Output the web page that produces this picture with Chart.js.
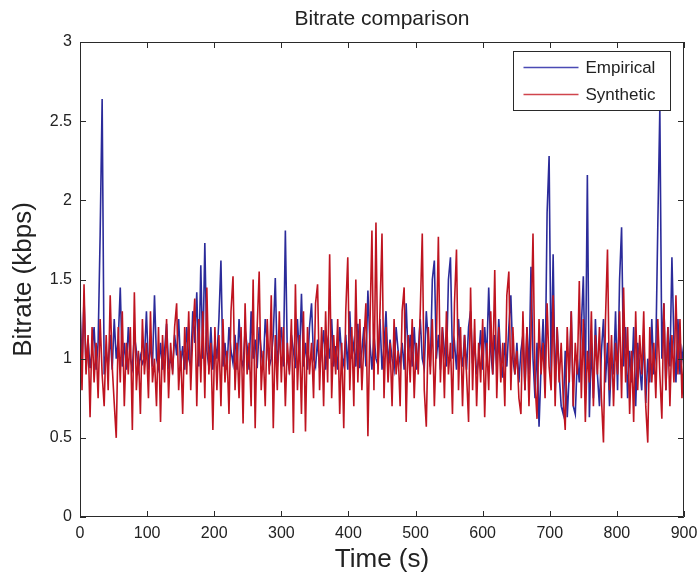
<!DOCTYPE html>
<html>
<head>
<meta charset="utf-8">
<title>Bitrate comparison</title>
<script src="https://cdn.jsdelivr.net/npm/chart.js@4.4.1/dist/chart.umd.min.js"></script>
<style>
  html, body { margin: 0; padding: 0; background: #fff; }
  canvas { display: block; }
</style>
</head>
<body>
<canvas id="bitrateChart" width="700" height="576"></canvas>
<script>
// sample spacing of the traces, in seconds
const timeStep = 3;

// Empirical trace, one value every 3 s from 0 to 900 s
const empirical = [
  1.35, 0.95, 1.38, 0.93, 1.12, 0.94, 1.05, 1.2, 0.93, 1.1, 1.78, 2.64, 0.9, 1.05, 0.95, 1.15, 0.93, 1.25, 1.0, 1.12,
  1.45, 0.95, 1.1, 0.93, 1.2, 1.0, 0.94, 1.15, 1.05, 0.93, 1.02, 0.97, 1.0, 1.3, 0.93, 1.1, 0.95, 1.4, 1.0, 0.94,
  1.1, 0.93, 1.05, 1.22, 0.95, 1.0, 0.93, 1.15, 1.02, 1.25, 0.95, 1.08, 0.93, 1.2, 1.0, 0.95, 1.3, 1.1, 1.42, 0.95,
  1.59, 1.0, 1.73, 1.05, 0.95, 1.2, 0.93, 1.1, 1.0, 1.25, 1.62, 0.95, 1.1, 0.93, 1.2, 1.05, 0.97, 1.15, 0.93, 1.25,
  1.0, 0.95, 1.18, 1.08, 0.93, 1.3, 1.0, 1.12, 0.94, 1.2, 1.05, 0.93, 1.25, 1.1, 0.95, 1.0, 1.15, 1.51, 0.95, 1.1,
  1.2, 0.95, 1.81, 1.0, 0.93, 1.15, 1.05, 0.94, 1.25, 1.0, 1.41, 0.95, 1.1, 0.93, 1.2, 1.35, 1.0, 0.95, 1.12, 0.94,
  1.05, 1.18, 0.93, 1.1, 1.0, 1.25, 0.95, 1.08, 0.93, 1.2, 1.02, 0.96, 1.15, 0.93, 1.3, 1.0, 1.1, 0.95, 1.22, 0.94,
  1.05, 1.2, 0.95, 1.43, 1.1, 0.93, 1.15, 1.0, 0.96, 1.25, 0.93, 1.08, 1.3, 0.95, 1.12, 1.0, 0.93, 1.2, 1.05, 0.97,
  1.1, 0.93, 1.35, 1.0, 1.15, 0.95, 1.2, 0.93, 1.05, 1.25, 1.0, 0.94, 1.3, 1.1, 0.95, 1.5, 1.62, 1.0, 1.15, 0.93,
  1.2, 1.05, 0.95, 1.5, 1.64, 1.0, 1.1, 0.93, 1.25, 1.05, 0.95, 1.15, 0.93, 1.2, 1.3, 0.97, 1.1, 0.9, 1.0, 1.18,
  0.93, 1.2, 1.0, 1.45, 1.05, 0.9, 1.15, 0.95, 1.25, 1.0, 0.88, 1.1, 0.95, 1.2, 1.4, 1.0, 0.9, 1.1, 0.85, 1.05,
  1.15, 0.8, 1.2, 0.9, 1.58, 1.0, 0.75, 1.1, 0.57, 0.95, 1.25, 0.85, 1.92, 2.28, 0.9, 1.66, 0.8, 1.2, 0.9, 0.7,
  0.65, 1.05, 0.63, 0.9, 1.3, 0.7, 0.65, 1.0, 0.85, 1.2, 1.52, 0.8, 2.16, 0.63, 1.1, 0.75, 1.25, 0.9, 0.7, 1.05,
  1.25, 0.85, 1.1, 0.7, 1.0, 0.9, 1.3, 0.8, 1.5, 1.83, 0.95, 1.2, 0.75, 1.05, 0.85, 1.2, 0.7, 1.1, 0.95, 0.8,
  1.15, 0.72, 1.0, 0.85, 1.25, 0.9, 1.05, 1.85, 2.58, 1.0, 1.35, 0.8, 1.2, 0.95, 1.64, 1.1, 0.85, 1.25, 0.9, 1.05,
  0.95
];

// Synthetic trace, same sampling
const synthetic = [
  1.3, 0.8, 1.47, 0.9, 1.15, 0.63, 1.2, 0.85, 1.1, 0.75, 1.25, 0.9, 0.7, 1.15, 0.8, 1.4, 0.95, 0.72, 0.5, 1.2,
  0.85, 1.3, 0.7, 1.1, 0.9, 1.2, 0.55, 1.42, 0.8, 1.05, 0.65, 1.25, 0.9, 1.1, 0.75, 1.3, 0.85, 1.0, 0.7, 1.2,
  0.6, 1.15, 0.85, 1.25, 0.75, 1.1, 0.9, 1.2, 1.35, 0.8, 1.05, 0.65, 1.2, 0.9, 1.3, 0.8, 1.15, 1.38, 0.7, 1.25,
  0.85, 1.3, 0.75, 1.45, 0.9, 1.1, 0.55, 1.2, 0.8, 1.15, 0.7, 1.25, 0.85, 1.05, 0.65, 1.3, 1.52, 0.8, 1.1, 0.75,
  1.2, 0.59, 1.35, 0.9, 1.1, 0.7, 1.5, 0.56, 1.2, 1.55, 0.8, 1.05, 0.7, 1.25, 0.9, 1.4, 0.56, 1.15, 0.8, 1.3,
  0.85, 1.2, 0.7, 1.1, 0.9, 1.25, 0.53, 1.47, 0.8, 1.15, 0.65, 1.3, 0.54, 1.2, 0.9, 1.1, 0.75, 1.35, 1.47, 0.8,
  1.2, 0.7, 1.3, 0.85, 1.66, 0.75, 1.15, 0.9, 1.25, 0.65, 1.1, 0.56, 1.3, 1.64, 0.8, 1.2, 0.7, 1.5, 0.85, 1.25,
  0.8, 1.1, 1.35, 0.51, 1.2, 1.81, 0.8, 1.86, 0.9, 1.3, 1.79, 0.75, 1.2, 0.85, 1.1, 0.7, 1.25, 0.9, 1.05, 0.7,
  1.3, 1.45, 0.6, 1.15, 0.85, 1.25, 0.75, 1.1, 0.9, 1.3, 1.79, 0.8, 0.57, 1.2, 0.9, 1.25, 0.7, 1.1, 1.77, 0.85,
  1.2, 0.75, 1.3, 0.9, 1.1, 0.65, 1.35, 1.69, 0.8, 1.2, 0.7, 1.15, 0.9, 0.6, 1.45, 0.8, 1.25, 0.7, 1.1, 0.85,
  1.25, 0.63, 1.1, 0.8, 1.3, 0.9, 1.56, 0.75, 1.2, 0.85, 1.1, 0.7, 1.4, 1.55, 0.8, 1.2, 0.9, 1.05, 0.75, 0.65,
  1.3, 0.8, 1.2, 0.7, 1.15, 1.79, 0.85, 0.62, 1.25, 0.9, 1.1, 0.75, 1.35, 0.95, 0.8, 1.4, 0.7, 1.2, 0.85, 1.1,
  0.75, 0.55, 1.2, 0.85, 1.3, 0.7, 1.1, 0.9, 1.49, 0.75, 1.25, 0.6, 1.05, 0.85, 1.3, 0.7, 1.15, 0.9, 1.2, 0.75,
  0.47, 1.25, 1.69, 0.8, 1.15, 0.7, 1.1, 0.9, 1.3, 0.75, 1.45, 0.85, 1.2, 0.65, 1.05, 0.6, 1.3, 0.8, 1.15, 0.9,
  1.3, 0.7, 0.47, 1.2, 0.85, 1.1, 0.75, 1.25, 0.9, 0.62, 1.35, 0.8, 1.2, 0.7, 1.15, 0.85, 1.4, 0.9, 1.25, 0.75,
  1.05
];

const times = empirical.map((v, i) => i * timeStep);

const xTicks = [0, 100, 200, 300, 400, 500, 600, 700, 800, 900];
const xTickLabels = ['0', '100', '200', '300', '400', '500', '600', '700', '800', '900'];
const yTicks = [0, 0.5, 1, 1.5, 2, 2.5, 3];
const yTickLabels = ['0', '0.5', '1', '1.5', '2', '2.5', '3'];

const FONT = "'Liberation Sans', Arial, Helvetica, sans-serif";
const INK = '#222222';

// MATLAB style box: frame plus inward ticks on all four sides, and legend box
const matlabAxes = {
  id: 'matlabAxes',
  afterDraw(chart) {
    const { ctx, chartArea: a, scales: { x, y } } = chart;
    const tl = 6;
    ctx.save();
    ctx.strokeStyle = '#2a2a2a';
    ctx.lineWidth = 1;
    ctx.beginPath();
    ctx.rect(a.left + 0.5, a.top + 0.5, a.right - a.left - 1, a.bottom - a.top - 1);
    xTicks.forEach(v => {
      const px = Math.round(x.getPixelForValue(v)) + 0.5;
      ctx.moveTo(px, a.bottom); ctx.lineTo(px, a.bottom - tl);
      ctx.moveTo(px, a.top); ctx.lineTo(px, a.top + tl);
    });
    yTicks.forEach(v => {
      const py = Math.round(y.getPixelForValue(v)) + 0.5;
      ctx.moveTo(a.left, py); ctx.lineTo(a.left + tl, py);
      ctx.moveTo(a.right, py); ctx.lineTo(a.right - tl, py);
    });
    ctx.stroke();

    // legend
    const w = 157, h = 59;
    const lx = Math.round(a.right - 14 - w) + 0.5;
    const ly = Math.round(a.top + 9) + 0.5;
    ctx.fillStyle = '#ffffff';
    ctx.fillRect(lx, ly, w, h);
    ctx.strokeRect(lx, ly, w, h);
    ctx.font = '17px ' + FONT;
    ctx.textBaseline = 'middle';
    ctx.textAlign = 'left';
    chart.data.datasets.forEach((ds, i) => {
      const rowY = ly + 16 + i * 27;
      ctx.strokeStyle = ds.legendColor;
      ctx.lineWidth = 1.5;
      ctx.beginPath();
      ctx.moveTo(lx + 10, rowY);
      ctx.lineTo(lx + 65, rowY);
      ctx.stroke();
      ctx.fillStyle = INK;
      ctx.fillText(ds.label, lx + 72, rowY + 1);
    });
    ctx.restore();
  }
};

new Chart(document.getElementById('bitrateChart'), {
  type: 'line',
  data: {
    labels: times,
    datasets: [
      {
        label: 'Empirical',
        data: empirical,
        borderColor: '#2b2b9a',
        legendColor: '#4a4ab4',
        borderWidth: 1.6,
        pointRadius: 0,
        tension: 0,
        order: 1
      },
      {
        label: 'Synthetic',
        data: synthetic,
        borderColor: '#bf1420',
        legendColor: '#d0444c',
        borderWidth: 1.6,
        pointRadius: 0,
        tension: 0,
        order: 0
      }
    ]
  },
  options: {
    responsive: false,
    animation: false,
    devicePixelRatio: 1,
    layout: { padding: { left: 0, right: 16, top: 0, bottom: 0 } },
    plugins: {
      legend: { display: false },
      tooltip: { enabled: false },
      title: {
        display: true,
        text: 'Bitrate comparison',
        fullSize: false,
        color: INK,
        font: { family: FONT, size: 21, weight: 'normal', lineHeight: 1.2 },
        padding: { top: 7, bottom: 9.8 }
      }
    },
    scales: {
      x: {
        type: 'linear',
        min: 0,
        max: 900,
        grid: { display: false, drawTicks: false },
        border: { display: false },
        afterBuildTicks: s => { s.ticks = xTicks.map(v => ({ value: v })); },
        afterFit: s => { s.height = 59; s.paddingLeft = 0; s.paddingRight = 0; },
        ticks: {
          padding: 7,
          maxRotation: 0,
          color: INK,
          font: { family: FONT, size: 16 },
          callback: (v, i) => xTickLabels[i]
        },
        title: {
          display: true,
          text: 'Time (s)',
          color: INK,
          font: { family: FONT, size: 26, lineHeight: 1 },
          padding: { top: 0, bottom: 3 }
        }
      },
      y: {
        type: 'linear',
        min: 0,
        max: 3,
        grid: { display: false, drawTicks: false },
        border: { display: false },
        afterBuildTicks: s => { s.ticks = yTicks.map(v => ({ value: v })); },
        afterFit: s => { s.width = 80; },
        ticks: {
          padding: 8,
          color: INK,
          font: { family: FONT, size: 16 },
          callback: (v, i) => yTickLabels[i]
        },
        title: {
          display: true,
          text: 'Bitrate (kbps)',
          color: INK,
          font: { family: FONT, size: 26, lineHeight: 1 },
          padding: { top: 11, bottom: 0 }
        }
      }
    }
  },
  plugins: [matlabAxes]
});
</script>
</body>
</html>
